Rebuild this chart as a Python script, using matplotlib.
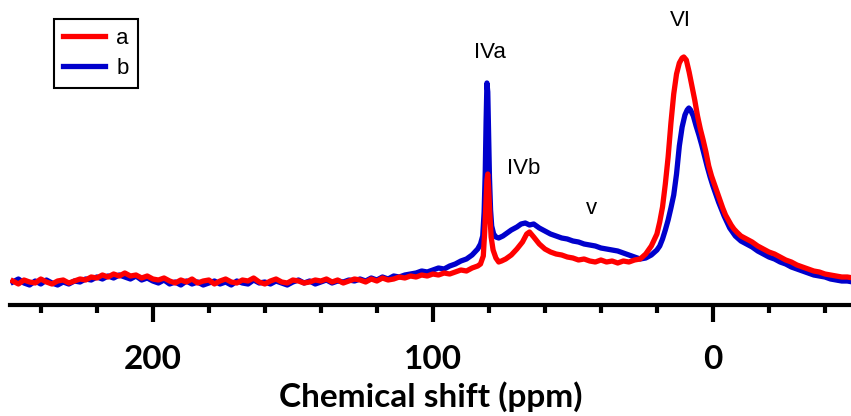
import numpy as np
import matplotlib
matplotlib.use("Agg")
import matplotlib.pyplot as plt
from matplotlib.ticker import MultipleLocator

# spectre a (rouge) : ppm, intensite
ppm_a = [250, 248, 246, 244, 242, 240, 238, 236, 234, 232, 230, 228, 226, 224, 222, 220, 218, 216, 214, 212,
         210, 208, 206, 204, 202, 200, 198, 196, 194, 192, 190, 188, 186, 184, 182, 180, 178, 176, 174, 172,
         170, 168, 166, 164, 162, 160, 158, 156, 154, 152, 150, 148, 146, 144, 142, 140, 138, 136, 134, 132,
         130, 128, 126, 124, 122, 120, 118, 116, 114, 112, 110, 108, 106, 104, 102, 100, 98, 96, 94, 92,
         90, 88, 86, 84, 83, 82, 81.5, 81, 80.7, 80.4, 80.1, 79.7, 79.2, 78.5, 77.5, 76.5, 75.5, 74, 72, 70,
         68, 66.5, 65.5, 64, 62, 60, 58, 56, 54, 52, 50, 48, 46, 44, 42, 40, 38, 36, 34, 32,
         30, 28, 26, 24, 22, 20, 19, 18, 17, 16, 15, 14, 13, 12, 11, 10.4, 9.5, 8.5, 7.5, 6.5,
         5.5, 4.5, 3.5, 2.5, 1.5, 0.5, -0.5, -1.5, -2.5, -3.5, -4.5, -5.5, -6.5, -7.5, -8.5, -10, -12, -14, -16, -18,
         -20, -22, -24, -26, -28, -30, -32, -34, -36, -38, -40, -42, -44, -46, -48, -50]
int_a = [1, -2, 2, 0, -1, 3, 0, -2, 1, 2, -1, 1, 3, 2, 5, 4, 7, 5, 8, 6,
         9, 6, 7, 4, 6, 3, 2, 4, 1, -1, 2, 0, 3, -1, 1, 2, -2, 1, 3, 0,
         -1, 2, 1, 4, 0, -2, 1, 3, 0, -1, 2, 1, -1, 0, 2, 1, 3, 0, 2, -1,
         1, 3, 2, 0, 3, 1, 4, 2, 3, 5, 4, 6, 5, 7, 6, 8, 7, 9, 8, 10,
         12, 11, 14, 16, 18, 26, 50, 82, 102, 108, 95, 70, 45, 32, 24, 20, 21, 23, 27, 33,
         40, 48, 50, 45, 38, 33, 30, 28, 27, 25, 24, 22, 23, 21, 20, 22, 20, 21, 19, 21,
         20, 22, 23, 28, 36, 48, 60, 75, 98, 125, 159, 188, 208, 219, 224, 225, 222, 210, 196, 182,
         166, 153, 142, 130, 116, 106, 98, 90, 82, 74, 67, 62, 57, 53, 50, 46, 43, 40, 36, 33,
         30, 28, 25, 22, 20, 17, 15, 13, 11, 10, 8, 7, 6, 5, 5, 4]

# spectre b (bleu)
ppm_b = [250, 248, 246, 244, 242, 240, 238, 236, 234, 232, 230, 228, 226, 224, 222, 220, 218, 216, 214, 212,
         210, 208, 206, 204, 202, 200, 198, 196, 194, 192, 190, 188, 186, 184, 182, 180, 178, 176, 174, 172,
         170, 168, 166, 164, 162, 160, 158, 156, 154, 152, 150, 148, 146, 144, 142, 140, 138, 136, 134, 132,
         130, 128, 126, 124, 122, 120, 118, 116, 114, 112, 110, 108, 106, 104, 102, 100, 98, 96, 94, 92,
         90, 88, 86, 84, 83, 82.2, 81.7, 81.3, 81, 80.7, 80.4, 80.1, 79.8, 79.4, 79, 78.3, 77.5, 76.5, 75, 73.5,
         72, 70, 68.5, 67, 65.5, 64, 62, 60, 58, 56, 54, 52, 50, 48, 46, 44, 42, 40, 38, 36,
         34, 32, 30, 28, 26, 24, 22, 20, 19, 18, 17, 16, 15, 14, 13, 12, 11, 10, 9.2, 8.6,
         8, 7, 6, 5, 4, 3, 2, 1, 0, -1, -2, -3, -4, -5, -6, -7, -8, -10, -12, -14,
         -16, -18, -20, -22, -24, -26, -28, -30, -32, -34, -36, -38, -40, -42, -44, -46, -48, -50]
int_b = [0, 3, -1, -3, 1, -2, 2, -1, -3, 0, -2, 1, 0, 3, 2, 5, 3, 6, 4, 7,
         5, 3, 6, 2, 4, 1, -1, 2, -2, 0, -3, 1, -2, 0, -3, -1, 1, -2, 0, -3,
         1, -1, -2, 2, -1, 0, -2, 1, -1, -3, 0, 2, -1, 1, -2, 0, 2, -1, 1, 0,
         2, 1, 3, 1, 4, 2, 5, 3, 6, 5, 7, 8, 9, 11, 10, 12, 14, 13, 16, 18,
         21, 23, 27, 33, 38, 46, 70, 110, 160, 199, 190, 150, 105, 72, 56, 48, 45, 44, 46, 49,
         52, 55, 58, 59, 57, 58, 54, 51, 48, 46, 44, 43, 41, 40, 38, 37, 36, 34, 33, 32,
         31, 29, 27, 25, 23, 24, 27, 32, 36, 43, 52, 62, 74, 87, 108, 136, 155, 167, 172, 174,
         172, 166, 156, 147, 137, 126, 115, 105, 96, 88, 80, 73, 66, 60, 54, 50, 46, 41, 38, 35,
         31, 28, 25, 23, 20, 18, 15, 13, 11, 9, 7, 6, 5, 3, 2, 1, 1, 0]

# annotations des pics
pic_noms = ['IVa', 'IVb', 'v', 'VI']
pic_ppm = [79.8, 67.5, 43.5, 11.5]
pic_int = [229, 114, 74, 261]

fig = plt.figure(figsize=(8.51, 4.16), dpi=100)
ax = fig.add_axes([10 / 851, 111 / 416, 841 / 851, 305 / 416])

ax.plot(ppm_b, int_b, color='#0000CC', lw=3.8, label='b', zorder=2)
ax.plot(ppm_a, int_a, color='#FF0000', lw=3.8, label='a', zorder=3)

for nom, x, y in zip(pic_noms, pic_ppm, pic_int):
    ax.text(x, y, nom, ha='center', va='center', fontsize=16, family='Liberation Sans')

ax.set_xlim(251, -49.3)
ax.set_ylim(-23, 282)

for s in ['left', 'top', 'right']:
    ax.spines[s].set_visible(False)
ax.spines['bottom'].set_linewidth(3)
ax.set_yticks([])
ax.xaxis.set_major_locator(MultipleLocator(100))
ax.xaxis.set_minor_locator(MultipleLocator(20))
ax.tick_params(axis='x', which='major', length=12, width=3, pad=17)
ax.tick_params(axis='x', which='minor', length=6, width=3)
for lab in ax.get_xticklabels():
    lab.set_fontfamily('Lato')
    lab.set_fontweight('bold')
    lab.set_fontsize(24)
ax.set_xlabel('Chemical shift (ppm)', fontsize=24, fontweight='bold', family='Lato', labelpad=5)

handles, labels = ax.get_legend_handles_labels()
leg = ax.legend(handles[::-1], labels[::-1], loc='upper left', bbox_to_anchor=(44 / 841, 286 / 305),
                borderaxespad=0, fancybox=False, edgecolor='black', framealpha=1,
                prop={'family': 'Liberation Sans', 'size': 16}, handlelength=1.9,
                handletextpad=0.5, labelspacing=0.4, borderpad=0.4)
leg.get_frame().set_linewidth(1.5)

fig.savefig('out.png', dpi=100)
